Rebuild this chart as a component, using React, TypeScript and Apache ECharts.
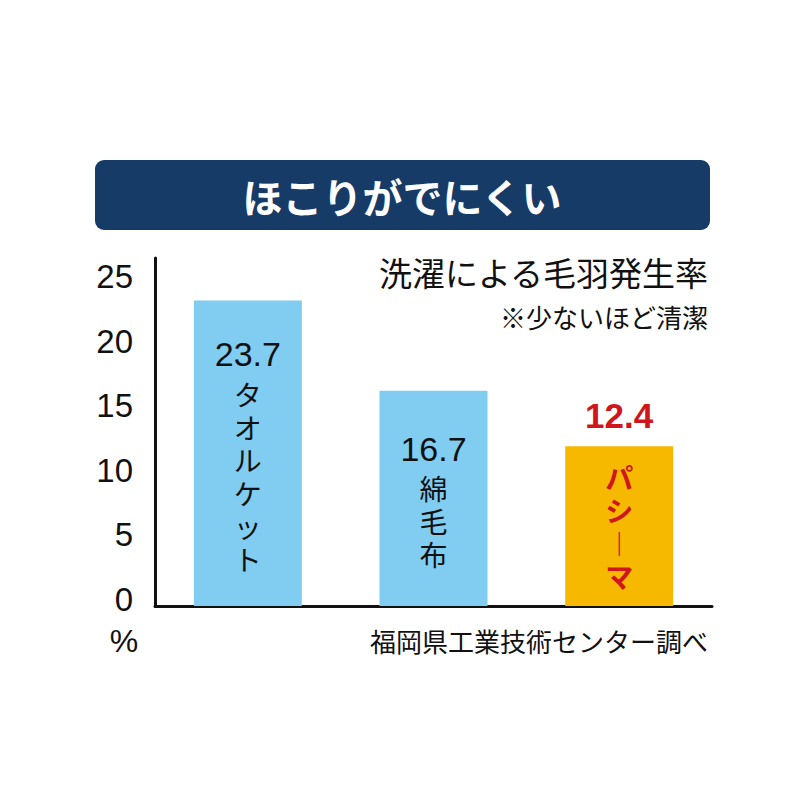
import React, { useEffect, useRef } from "react";
import * as echarts from "echarts";

const categories = ["タオルケット", "綿毛布", "パシーマ"];
const values = [23.7, 16.7, 12.4];
const highlight = [false, false, true];
const yTicks = [0, 5, 10, 15, 20, 25];
const titleText = "ほこりがでにくい";
const subTitle = "洗濯による毛羽発生率";
const note = "※少ないほど清潔";
const source = "福岡県工業技術センター調べ";
const unit = "%";

const BLUE = "#80CDF1";
const ORANGE = "#F6B900";
const RED = "#D0161C";
const NAVY = "#173B67";
const JP = "'Noto Sans CJK JP', sans-serif";
const NUM = "'Liberation Sans', 'Noto Sans CJK JP', sans-serif";

const toVertical = (s: string) =>
  s.split("").map((c) => (c === "ー" ? "︱" : c));

export default function App() {
  const ref = useRef<HTMLDivElement>(null);
  useEffect(() => {
    if (!ref.current) return;
    const chart = echarts.init(ref.current, null, { renderer: "svg" });
    const mainData = values.map((v, i) => ({
      value: v,
      itemStyle: { color: highlight[i] ? ORANGE : BLUE },
      label: {
        formatter: () => {
          const chars = toVertical(categories[i]);
          if (highlight[i]) {
            return chars.map((c) => `{hk|${c}}`).join("\n");
          }
          return [`{num|${v}}`, ...chars.map((c) => `{kana|${c}}`)].join("\n");
        },
      },
    }));
    const topData = values.map((v, i) => (highlight[i] ? v : "-"));
    chart.setOption({
      animation: false,
      grid: { left: 155, right: 88, top: 258, bottom: 194, containLabel: false },
      xAxis: {
        type: "category",
        data: categories,
        axisLine: { show: true, lineStyle: { color: "#111", width: 3 } },
        axisTick: { show: false },
        axisLabel: { show: false },
      },
      yAxis: {
        type: "value",
        min: 0,
        max: 27,
        interval: 5,
        axisLine: { show: true, lineStyle: { color: "#111", width: 3 } },
        axisTick: { show: false },
        splitLine: { show: false },
        axisLabel: {
          margin: 22,
          fontSize: 33,
          color: "#111",
          fontFamily: NUM,
          verticalAlign: "bottom",
          lineHeight: 14,
          formatter: (v: number) => (yTicks.includes(v) ? String(v) : ""),
        },
      },
      series: [
        {
          type: "bar",
          data: mainData,
          barWidth: 108,
          barGap: "-100%",
          label: {
            show: true,
            position: "inside",
            color: "#111",
            rich: {
              num: { fontSize: 34, lineHeight: 46, fontFamily: NUM, color: "#111" },
              kana: { fontSize: 28, lineHeight: 33, fontFamily: JP, color: "#111" },
              hk: { fontSize: 28, lineHeight: 33, fontFamily: JP, color: RED, fontWeight: "bold" },
            },
          },
        },
        {
          type: "bar",
          data: topData,
          barWidth: 108,
          barGap: "-100%",
          itemStyle: { color: "rgba(0,0,0,0)" },
          label: {
            show: true,
            position: "top",
            distance: 13,
            fontSize: 35,
            fontWeight: "bold",
            fontFamily: NUM,
            color: RED,
          },
        },
      ],
      graphic: [
        {
          type: "rect",
          shape: { x: 95, y: 160, width: 615, height: 70, r: 9 },
          style: { fill: NAVY },
        },
        {
          type: "text",
          x: 402,
          y: 196,
          style: {
            text: titleText,
            fill: "#fff",
            font: `bold 40px ${JP}`,
            textAlign: "center",
            textVerticalAlign: "middle",
          },
        },
        {
          type: "text",
          x: 708,
          y: 272,
          style: {
            text: subTitle,
            fill: "#111",
            font: `33px ${JP}`,
            textAlign: "right",
            textVerticalAlign: "middle",
          },
        },
        {
          type: "text",
          x: 708,
          y: 316,
          style: {
            text: note,
            fill: "#111",
            font: `26px ${JP}`,
            textAlign: "right",
            textVerticalAlign: "middle",
          },
        },
        {
          type: "text",
          x: 708,
          y: 640,
          style: {
            text: source,
            fill: "#111",
            font: `26px ${JP}`,
            textAlign: "right",
            textVerticalAlign: "middle",
          },
        },
        {
          type: "text",
          x: 124,
          y: 641,
          style: {
            text: unit,
            fill: "#111",
            font: `32px ${NUM}`,
            textAlign: "center",
            textVerticalAlign: "middle",
          },
        },
      ],
    });
    return () => chart.dispose();
  }, []);
  return (
    <div
      ref={ref}
      style={{ position: "absolute", left: 0, top: 0, width: 800, height: 800, background: "#fff" }}
    />
  );
}
